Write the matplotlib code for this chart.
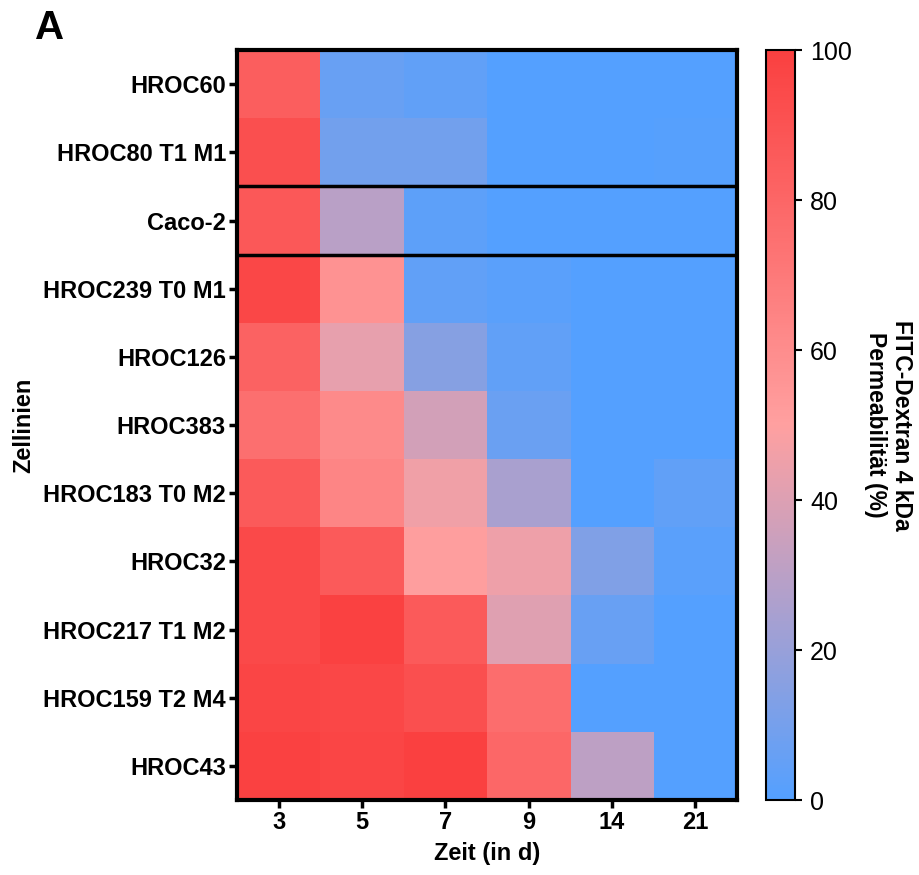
import numpy as np
import matplotlib
matplotlib.use("Agg")
import matplotlib.pyplot as plt
from matplotlib.colors import LinearSegmentedColormap

plt.rcParams['font.family'] = ['Liberation Sans', 'DejaVu Sans']

cell_lines = ["HROC60", "HROC80 T1 M1", "Caco-2", "HROC239 T0 M1", "HROC126",
              "HROC383", "HROC183 T0 M2", "HROC32", "HROC217 T1 M2",
              "HROC159 T2 M4", "HROC43"]
days = ["3", "5", "7", "9", "14", "21"]

# permeability (%) per cell line, columns = days
hroc60 = [84, 6, 4, 0, 0, 0]
hroc80 = [92, 9, 9, 0, 0, 1]
caco2 = [87, 30, 3, 0, 0, 0]
hroc239 = [96, 57, 4, 2, 0, 0]
hroc126 = [82, 43, 15, 4, 0, 0]
hroc383 = [75, 61, 37, 7, 0, 0]
hroc183 = [86, 64, 46, 25, 0, 4]
hroc32 = [95, 86, 51, 45, 13, 2]
hroc217 = [95, 99, 86, 41, 6, 0]
hroc159 = [97, 96, 92, 76, 0, 0]
hroc43 = [99, 97, 100, 79, 31, 0]

data = np.array([hroc60, hroc80, caco2, hroc239, hroc126, hroc383,
                 hroc183, hroc32, hroc217, hroc159, hroc43])

cmap = LinearSegmentedColormap.from_list(
    "perm", [(0.0, "#54a0ff"), (0.5, "#ffa0a0"), (1.0, "#fa4040")])

fig = plt.figure(figsize=(9.2, 8.75), dpi=100)
ax = fig.add_axes([0.2576, 0.0857, 0.5435, 0.857])
cax = fig.add_axes([0.8326, 0.0857, 0.0315, 0.857])

im = ax.imshow(data, cmap=cmap, vmin=0, vmax=100, aspect='auto',
               interpolation='nearest')

ax.set_xticks(range(len(days)))
ax.set_xticklabels(days, fontsize=17, fontweight='bold')
ax.set_yticks(range(len(cell_lines)))
ax.set_yticklabels(cell_lines, fontsize=17, fontweight='bold')
ax.tick_params(width=2.5, length=6, pad=2)
for s in ax.spines.values():
    s.set_linewidth(3)

for y in [1.5, 2.5]:
    ax.axhline(y, color='black', lw=2.5)

ax.set_xlabel("Zeit (in d)", fontsize=17, fontweight='bold', labelpad=6)
ax.set_ylabel("Zellinien", fontsize=17, fontweight='bold', labelpad=6)

cb = fig.colorbar(im, cax=cax, ticks=[0, 20, 40, 60, 80, 100])
cb.outline.set_linewidth(1.5)
cb.ax.tick_params(labelsize=18, width=1.5, length=5, pad=6)
cb.set_label("FITC-Dextran 4 kDa\nPermeabilität (%)", fontsize=16.5,
             fontweight='bold', rotation=-90, labelpad=44, linespacing=1.2)

fig.text(0.038, 0.955, "A", fontsize=29, fontweight='bold')

fig.savefig("out.png", dpi=100)
